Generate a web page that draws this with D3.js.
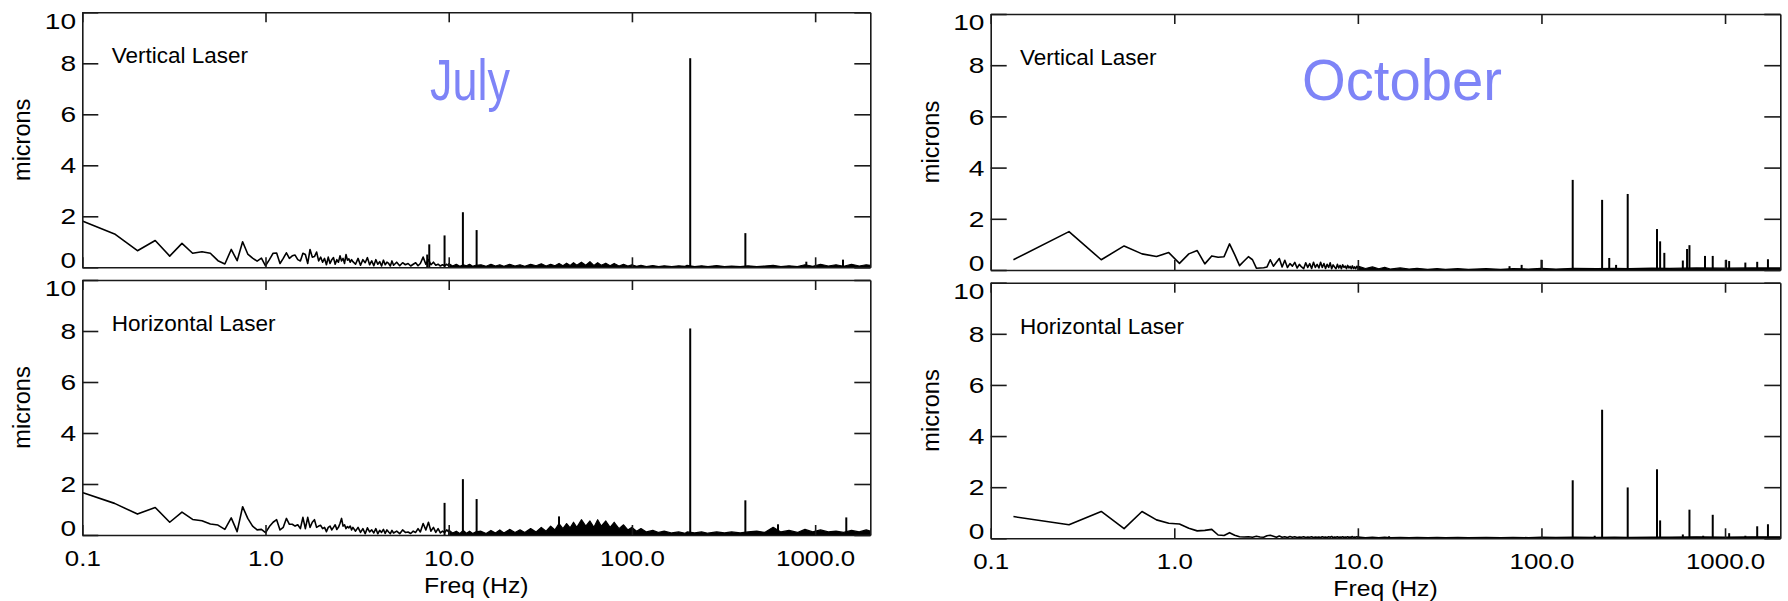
<!DOCTYPE html>
<html>
<head>
<meta charset="utf-8">
<script src="https://cdn.jsdelivr.net/npm/d3@7"></script>
<style>
  body { margin: 0; background: #fff; }
  svg { display: block; }
  text { font-family: "Liberation Sans", Arial, Helvetica, sans-serif; fill: #000; }
</style>
</head>
<body>
<svg id="chart" width="1788" height="601"></svg>
<script>
// ---- axis values ----
var xTicks = [0.1, 1, 10, 100, 1000];
var xTickLabels = ["0.1", "1.0", "10.0", "100.0", "1000.0"];
var yTicks = [0, 2, 4, 6, 8, 10];
var yTickLabels = ["0", "2", "4", "6", "8", "10"];

// ---- July: low frequency bins (0.05 Hz) ----
var julyLowFreq = [0.10, 0.15, 0.20, 0.25, 0.30, 0.35, 0.40, 0.45, 0.50, 0.55,
                   0.60, 0.65, 0.70, 0.75, 0.80, 0.85, 0.90, 0.95, 1.00, 1.05,
                   1.10, 1.15, 1.20, 1.25, 1.30, 1.35, 1.40, 1.45, 1.50, 1.55,
                   1.60, 1.65, 1.70, 1.75, 1.80, 1.85, 1.90, 1.95, 2.00, 2.05,
                   2.10, 2.15, 2.20, 2.25, 2.30, 2.35, 2.40, 2.45, 2.50, 2.55,
                   2.60, 2.65, 2.70, 2.75, 2.80, 2.85, 2.90, 2.95, 3.00];
var julyVertLow = [1.82, 1.31, 0.65, 1.05, 0.44, 0.94, 0.55, 0.61, 0.55, 0.26,
                   0.13, 0.70, 0.26, 1.00, 0.52, 0.36, 0.24, 0.36, 0.06, 0.30,
                   0.55, 0.56, 0.15, 0.35, 0.57, 0.35, 0.45, 0.48, 0.30, 0.25,
                   0.55, 0.50, 0.15, 0.70, 0.40, 0.42, 0.60, 0.25, 0.40, 0.20,
                   0.35, 0.10, 0.40, 0.15, 0.30, 0.38, 0.12, 0.30, 0.20, 0.45,
                   0.25, 0.35, 0.15, 0.50, 0.28, 0.33, 0.20, 0.30, 0.22];
var julyHorzLow = [1.67, 1.24, 0.82, 1.08, 0.50, 0.90, 0.61, 0.56, 0.43, 0.39,
                   0.22, 0.67, 0.13, 1.11, 0.65, 0.35, 0.20, 0.22, 0.09, 0.33,
                   0.50, 0.60, 0.20, 0.30, 0.65, 0.42, 0.42, 0.35, 0.40, 0.25,
                   0.69, 0.25, 0.69, 0.30, 0.50, 0.60, 0.30, 0.35, 0.38, 0.25,
                   0.30, 0.13, 0.30, 0.35, 0.20, 0.30, 0.40, 0.22, 0.30, 0.45,
                   0.65, 0.35, 0.40, 0.25, 0.33, 0.28, 0.35, 0.20, 0.30];

// ---- July: 3-10 Hz (sampled) ----
var julyMidFreq = [3.1, 3.2, 3.3, 3.4, 3.5, 3.6, 3.7, 3.8, 3.9, 4.0,
                   4.1, 4.2, 4.3, 4.4, 4.5, 4.6, 4.7, 4.8, 4.9, 5.0,
                   5.2, 5.4, 5.6, 5.8, 6.0, 6.2, 6.4, 6.6, 6.8, 7.0,
                   7.25, 7.5, 7.75, 8.0, 8.25, 8.5, 8.75, 9.0, 9.25, 9.5, 9.75, 10.0];
var julyVertMid = [0.12, 0.35, 0.08, 0.30, 0.18, 0.38, 0.10, 0.25, 0.06, 0.30,
                   0.12, 0.22, 0.05, 0.28, 0.10, 0.20, 0.15, 0.05, 0.25, 0.08,
                   0.20, 0.06, 0.18, 0.10, 0.15, 0.05, 0.12, 0.18, 0.06, 0.15,
                   0.40, 0.12, 0.30, 0.10, 0.20, 0.08, 0.12, 0.05, 0.10, 0.06, 0.12, 0.05];
var julyHorzMid = [0.15, 0.30, 0.10, 0.25, 0.05, 0.28, 0.12, 0.20, 0.08, 0.25,
                   0.05, 0.18, 0.10, 0.22, 0.06, 0.20, 0.12, 0.05, 0.18, 0.08,
                   0.15, 0.05, 0.20, 0.10, 0.12, 0.06, 0.15, 0.10, 0.25, 0.12,
                   0.45, 0.20, 0.50, 0.15, 0.30, 0.10, 0.25, 0.08, 0.15, 0.10, 0.20, 0.12];

// ---- July: dense noise envelope above 10 Hz ----
var julyBandFreq = [10, 10.5, 11, 11.5, 12, 12.5, 13, 13.5, 14,
                    15, 16, 17, 18, 19, 20,
                    21.5, 23, 24.5, 26, 28, 30,
                    32, 34, 36, 38, 40,
                    42, 44, 46, 48, 50,
                    53, 56, 59, 62, 65, 68,
                    72, 76, 80, 85, 90, 95, 100,
                    106, 112, 120, 130, 140, 150,
                    165, 180, 195, 200,
                    220, 240, 260, 290, 320, 350,
                    390, 430, 480, 530, 590, 650,
                    720, 800, 880, 970, 1070, 1180,
                    1300, 1430, 1580, 1740, 1900, 2000];
var julyVertBand = [0.15, 0.05, 0.12, 0.04, 0.10, 0.06, 0.12, 0.04, 0.08,
                    0.10, 0.04, 0.12, 0.05, 0.10, 0.04,
                    0.12, 0.05, 0.10, 0.04, 0.12, 0.06,
                    0.14, 0.05, 0.12, 0.06, 0.15,
                    0.06, 0.16, 0.07, 0.18, 0.08,
                    0.20, 0.08, 0.22, 0.07, 0.18, 0.08,
                    0.16, 0.06, 0.15, 0.05, 0.12, 0.05, 0.10,
                    0.04, 0.08, 0.03, 0.07, 0.03, 0.06,
                    0.03, 0.06, 0.04, 0.08,
                    0.03, 0.06, 0.03, 0.07, 0.03, 0.05,
                    0.03, 0.06, 0.03, 0.05, 0.08, 0.03,
                    0.06, 0.03, 0.10, 0.04, 0.12, 0.05,
                    0.10, 0.04, 0.12, 0.05, 0.10, 0.08];
var julyHorzBand = [0.20, 0.08, 0.15, 0.06, 0.18, 0.07, 0.15, 0.06, 0.12,
                    0.15, 0.06, 0.18, 0.08, 0.20, 0.08,
                    0.22, 0.10, 0.20, 0.10, 0.25, 0.12,
                    0.30, 0.15, 0.35, 0.20, 0.45,
                    0.25, 0.45, 0.28, 0.50, 0.30,
                    0.60, 0.35, 0.55, 0.30, 0.60, 0.35,
                    0.55, 0.30, 0.50, 0.25, 0.40, 0.20, 0.30,
                    0.15, 0.25, 0.12, 0.18, 0.10, 0.15,
                    0.08, 0.12, 0.07, 0.12,
                    0.08, 0.12, 0.07, 0.12, 0.08, 0.12,
                    0.08, 0.12, 0.15, 0.10, 0.30, 0.12,
                    0.18, 0.10, 0.22, 0.12, 0.20, 0.12,
                    0.15, 0.10, 0.18, 0.12, 0.20, 0.15];

// ---- July: spectral lines ----
var julyVertSpikeF = [7.63, 7.83, 9.49, 11.95, 14.2, 208, 416, 895, 1419];
var julyVertSpikeA = [0.50, 0.90, 1.25, 2.16, 1.46, 8.20, 1.34, 0.22, 0.30];
var julyHorzSpikeF = [9.49, 11.95, 14.2, 40, 208, 416, 627, 1479];
var julyHorzSpikeA = [1.26, 2.19, 1.41, 0.73, 8.10, 1.36, 0.42, 0.69];

// ---- October: bins (0.133 Hz) up to 10 Hz ----
var octFreq = [0.133, 0.267, 0.400, 0.533, 0.667, 0.800, 0.933, 1.067, 1.200, 1.333,
               1.467, 1.600, 1.733, 1.867, 2.000, 2.133, 2.267, 2.400, 2.533, 2.667,
               2.800, 2.933, 3.067, 3.200, 3.333, 3.467, 3.600, 3.733, 3.867, 4.000,
               4.133, 4.267, 4.400, 4.533, 4.667, 4.800, 4.933, 5.067, 5.200, 5.333,
               5.467, 5.600, 5.733, 5.867, 6.000, 6.133, 6.267, 6.400, 6.533, 6.667,
               6.800, 6.933, 7.067, 7.200, 7.333, 7.467, 7.600, 7.733, 7.867, 8.000,
               8.133, 8.267, 8.400, 8.533, 8.667, 8.800, 8.933, 9.067, 9.200, 9.333,
               9.467, 9.600, 9.733, 9.867, 10.000];
var octVert = [0.40, 1.50, 0.40, 0.94, 0.63, 0.53, 0.68, 0.26, 0.63, 0.76,
               0.24, 0.55, 0.50, 0.52, 1.02, 0.60, 0.17, 0.35, 0.52, 0.40,
               0.07, 0.08, 0.09, 0.12, 0.40, 0.15, 0.30, 0.45, 0.12, 0.38,
               0.10, 0.25, 0.15, 0.30, 0.08, 0.22, 0.12, 0.05, 0.28, 0.10,
               0.25, 0.06, 0.30, 0.10, 0.22, 0.08, 0.30, 0.10, 0.25, 0.06,
               0.22, 0.10, 0.28, 0.05, 0.20, 0.12, 0.05, 0.22, 0.08, 0.18,
               0.05, 0.20, 0.10, 0.15, 0.05, 0.18, 0.08, 0.14, 0.05, 0.16,
               0.06, 0.12, 0.05, 0.14, 0.08];
var octHorz = [0.85, 0.53, 1.05, 0.38, 1.05, 0.72, 0.59, 0.56, 0.39, 0.29,
               0.31, 0.35, 0.13, 0.11, 0.22, 0.12, 0.06, 0.05, 0.06, 0.04,
               0.08, 0.05, 0.04, 0.10, 0.12, 0.08, 0.04, 0.09, 0.04, 0.06,
               0.03, 0.07, 0.04, 0.06, 0.03, 0.05, 0.04, 0.06, 0.03, 0.05,
               0.04, 0.06, 0.03, 0.05, 0.04, 0.05, 0.03, 0.06, 0.04, 0.05,
               0.03, 0.06, 0.04, 0.07, 0.03, 0.05, 0.04, 0.06, 0.03, 0.05,
               0.04, 0.06, 0.03, 0.05, 0.04, 0.06, 0.03, 0.05, 0.04, 0.07,
               0.03, 0.05, 0.04, 0.06, 0.04];

// ---- October: noise envelope above 10 Hz ----
var octBandFreq = [10, 11, 12, 13, 14, 15, 17, 19, 21, 24, 27, 30, 35, 40, 50,
                   60, 70, 85, 100, 120, 150, 200, 250, 300, 400, 500, 700, 1000, 1400, 2000];
var octVertBand = [0.15, 0.06, 0.12, 0.05, 0.10, 0.04, 0.08, 0.04, 0.06, 0.03, 0.05, 0.03, 0.05, 0.03, 0.05,
                   0.03, 0.05, 0.04, 0.06, 0.04, 0.06, 0.05, 0.06, 0.05, 0.07, 0.06, 0.08, 0.07, 0.08, 0.08];
var octHorzBand = [0.06, 0.03, 0.05, 0.03, 0.05, 0.03, 0.04, 0.03, 0.04, 0.03, 0.04, 0.03, 0.04, 0.03, 0.04,
                   0.03, 0.04, 0.03, 0.05, 0.04, 0.05, 0.04, 0.05, 0.04, 0.05, 0.05, 0.06, 0.05, 0.06, 0.06];

// ---- October: spectral lines ----
var octVertSpikeF = [67, 78, 100, 148, 214, 234, 255, 295, 426, 443, 467, 589, 621, 640, 778, 857, 1014, 1053, 1290, 1497, 1713];
var octVertSpikeA = [0.15, 0.20, 0.40, 3.52, 2.74, 0.47, 0.20, 2.97, 1.60, 1.12, 0.67, 0.37, 0.82, 0.97, 0.55, 0.55, 0.40, 0.35, 0.29, 0.32, 0.42];
var octHorzSpikeF = [14.8, 148, 195, 214, 295, 426, 443, 589, 640, 760, 857, 1053, 1290, 1497, 1713];
var octHorzSpikeA = [0.08, 2.27, 0.10, 5.03, 1.99, 2.70, 0.70, 0.15, 1.12, 0.10, 0.92, 0.20, 0.10, 0.47, 0.55];

// ---- layout ----
var cols = [
	{x0: 82.3, x1: 870.3, rows: [[12.3, 267.3], [280, 535]], month: "July", monthX: 430, monthLen: 80},
	{x0: 990.7, x1: 1780.3, rows: [[14, 270], [282.7, 538.3]], month: "October", monthX: 1302, monthLen: 200}
];

var panels = [
	{col: 0, row: 0, label: "Vertical Laser",
	 lineF: julyLowFreq.concat(julyMidFreq), lineA: julyVertLow.concat(julyVertMid),
	 bandF: julyBandFreq, bandA: julyVertBand, spikeF: julyVertSpikeF, spikeA: julyVertSpikeA},
	{col: 0, row: 1, label: "Horizontal Laser",
	 lineF: julyLowFreq.concat(julyMidFreq), lineA: julyHorzLow.concat(julyHorzMid),
	 bandF: julyBandFreq, bandA: julyHorzBand, spikeF: julyHorzSpikeF, spikeA: julyHorzSpikeA},
	{col: 1, row: 0, label: "Vertical Laser",
	 lineF: octFreq, lineA: octVert,
	 bandF: octBandFreq, bandA: octVertBand, spikeF: octVertSpikeF, spikeA: octVertSpikeA},
	{col: 1, row: 1, label: "Horizontal Laser",
	 lineF: octFreq, lineA: octHorz,
	 bandF: octBandFreq, bandA: octHorzBand, spikeF: octHorzSpikeF, spikeA: octHorzSpikeA}
];

var svg = d3.select("#chart");
var fontFamily = '"Liberation Sans", Arial, Helvetica, sans-serif';
var ink = "#1a1a1a";

function styleAxis(g)
{
	g.attr("font-family", fontFamily).attr("font-size", 22.5);
	g.selectAll(".domain, .tick line").attr("stroke", ink).attr("stroke-width", 1.6);
	g.selectAll(".tick text").attr("fill", "#000");
}

panels.forEach(function(p)
{
	var c = cols[p.col],
		r = c.rows[p.row],
		bottomRow = p.row === 1;

	var x = d3.scaleLog().domain([0.1, 2000]).range([c.x0, c.x1]);
	var y = d3.scaleLinear().domain([0, 10]).range([r[1], r[0]]);

	var g = svg.append("g").attr("class", "panel");

	// noise envelope
	var band = p.bandF.map(function(f, i){ return [f, p.bandA[i]]; });
	g.append("path")
		.datum(band)
		.attr("d", d3.area().x(function(d){ return x(d[0]); }).y0(y(0)).y1(function(d){ return y(d[1]); }))
		.attr("fill", "#000")
		.attr("stroke", "#000")
		.attr("stroke-width", 1.2)
		.attr("stroke-linejoin", "round");

	// resolved spectrum
	var pts = p.lineF.map(function(f, i){ return [f, p.lineA[i]]; });
	g.append("path")
		.datum(pts)
		.attr("d", d3.line().x(function(d){ return x(d[0]); }).y(function(d){ return y(d[1]); }))
		.attr("fill", "none")
		.attr("stroke", "#000")
		.attr("stroke-width", 1.6)
		.attr("stroke-linejoin", "round");

	// spectral lines
	g.selectAll("line.spike")
		.data(p.spikeF.map(function(f, i){ return [f, p.spikeA[i]]; }))
		.enter()
		.append("line")
		.attr("class", "spike")
		.attr("x1", function(d){ return x(d[0]); })
		.attr("x2", function(d){ return x(d[0]); })
		.attr("y1", y(0))
		.attr("y2", function(d){ return y(d[1]); })
		.attr("stroke", "#000")
		.attr("stroke-width", 2);

	// axes
	var left = g.append("g")
		.attr("transform", "translate(" + c.x0 + ",0)")
		.call(d3.axisLeft(y).tickValues(yTicks)
			.tickFormat(function(d){ return yTickLabels[yTicks.indexOf(d)]; })
			.tickSizeInner(-16).tickSizeOuter(0).tickPadding(5));
	styleAxis(left);
	left.selectAll(".tick text")
		.attr("transform", "scale(1.25,1)")
		.attr("dy", function(d){ return d === 10 ? "0.71em" : (d === 0 ? "0em" : "0.34em"); });

	var right = g.append("g")
		.attr("transform", "translate(" + c.x1 + ",0)")
		.call(d3.axisRight(y).tickValues(yTicks).tickFormat("").tickSizeInner(-16).tickSizeOuter(0));
	styleAxis(right);

	var top = g.append("g")
		.attr("transform", "translate(0," + r[0] + ")")
		.call(d3.axisTop(x).tickValues(xTicks).tickFormat("").tickSizeInner(-10).tickSizeOuter(0));
	styleAxis(top);

	var bottom = g.append("g")
		.attr("transform", "translate(0," + r[1] + ")")
		.call(d3.axisBottom(x).tickValues(xTicks)
			.tickFormat(function(d){ return bottomRow ? xTickLabels[xTicks.indexOf(d)] : ""; })
			.tickSizeInner(-10).tickSizeOuter(0).tickPadding(15));
	styleAxis(bottom);
	bottom.selectAll(".tick text").attr("transform", "scale(1.15,1)");

	// texts
	g.append("text")
		.attr("transform", "translate(" + (c.x0 - 52) + "," + ((r[0] + r[1]) / 2) + ") rotate(-90)")
		.attr("text-anchor", "middle")
		.attr("font-size", 23.5)
		.text("microns");

	g.append("text")
		.attr("x", c.x0 + 29.4)
		.attr("y", r[0] + 51)
		.attr("font-size", 22.5)
		.text(p.label);

	if (bottomRow)
	{
		g.append("text")
			.attr("transform", "translate(" + ((c.x0 + c.x1) / 2) + "," + (r[1] + 58) + ") scale(1.1,1)")
			.attr("text-anchor", "middle")
			.attr("font-size", 22.5)
			.text("Freq (Hz)");
	}
	else
	{
		svg.append("text")
			.attr("x", c.monthX)
			.attr("y", 100)
			.attr("font-size", 57)
			.attr("textLength", c.monthLen)
			.attr("lengthAdjust", "spacingAndGlyphs")
			.style("fill", "#7e84f7")
			.text(c.month);
	}
});
</script>
</body>
</html>
